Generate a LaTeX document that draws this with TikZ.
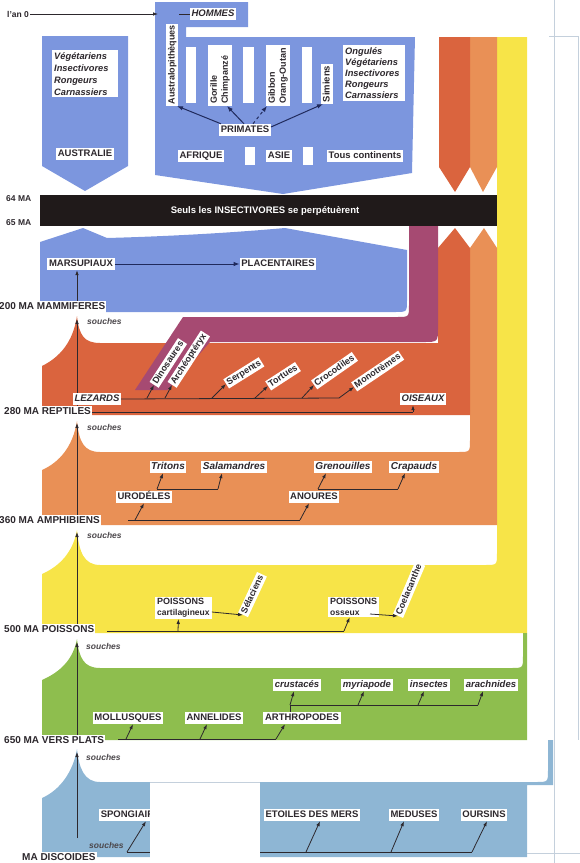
\documentclass[tikz,border=0pt]{standalone}
\usepackage{fontspec}
\setmainfont{Liberation Sans}
\usetikzlibrary{arrows.meta,calc}
\definecolor{mblue}{RGB}{124,150,222}
\definecolor{lblue}{RGB}{142,182,212}
\definecolor{bandc}{RGB}{32,26,26}
\definecolor{purp}{RGB}{166,74,114}
\definecolor{rred}{RGB}{218,100,62}
\definecolor{aor}{RGB}{233,144,86}
\definecolor{yel}{RGB}{247,228,72}
\definecolor{grn}{RGB}{142,190,78}
\definecolor{ink}{RGB}{45,40,45}
\definecolor{navy}{RGB}{32,42,92}
\definecolor{artline}{RGB}{196,208,220}
\begin{document}
\begin{tikzpicture}[x=1pt,y=-1pt,
 every node/.style={text=ink},
 lbl/.style={fill=white, inner xsep=1.6pt, inner ysep=1.6pt, text height=6.9pt, text depth=1.9pt, font=\fontsize{9.5}{10}\selectfont\bfseries},
 ilbl/.style={lbl, font=\fontsize{9.5}{10}\selectfont\bfseries\itshape},
 ilblb/.style={lbl, font=\fontsize{10}{10}\selectfont\bfseries\itshape},
 lblm/.style={fill=white, inner xsep=2pt, inner ysep=2pt, font=\fontsize{9.5}{11}\selectfont\bfseries},
 era/.style={lbl, anchor=west, inner xsep=1pt, font=\fontsize{10}{11}\selectfont\bfseries},
 rlbl/.style={lbl, anchor=west, inner ysep=1pt, font=\fontsize{9}{10}\selectfont\bfseries},
 sch/.style={font=\fontsize{8.5}{9}\selectfont\bfseries\itshape, anchor=west, inner sep=0pt, text=ink!85},
 ln/.style={draw=ink, line width=0.8pt},
 arr/.style={ln, -{Latex[length=5pt,width=3.6pt]}},
 narr/.style={draw=navy, line width=1pt, -{Latex[length=6pt,width=4.5pt]}},
]
\useasboundingbox (0,0) rectangle (580,863);

% ---------- coloured bands ----------
\fill[yel] (42,633) -- (42,574) .. controls (60,566) and (73,552) .. (77,530) .. controls (79,552) and (84,565) .. (100,565) -- (485,565) .. controls (497,565) .. (497,553) -- (497,37) -- (527,37) -- (527,633) -- cycle;
\fill[aor] (42,525) -- (42,470) .. controls (60,462) and (73,446) .. (77,421) .. controls (79,442) and (84,452) .. (100,452) -- (458,452) .. controls (470,452) .. (470,440) -- (470,248) -- (484,228) -- (497,248) -- (497,525) -- cycle;
\fill[aor] (470,37) -- (497,37) -- (497,167) -- (483,192) -- (470,167) -- cycle;
\fill[rred] (42,415) -- (42,366) .. controls (60,357) and (73,342) .. (77,316) .. controls (79,335) and (84,343) .. (100,343) -- (438,343) -- (438,248) -- (455,228) -- (470,248) -- (470,415) -- cycle;
\fill[rred] (439,37) -- (470,37) -- (470,167) -- (455,192) -- (439,167) -- cycle;
\fill[purp] (409,225) -- (438,225) -- (438,327) .. controls (438,342) .. (423,342) -- (210,342) -- (168,390) -- (135,390) -- (183,317) -- (397,317) .. controls (409,317) .. (409,305) -- cycle;
\fill[mblue] (40,242) -- (83,228) -- (107,238) .. controls (180,236) and (240,232) .. (285,228) -- (407,250) -- (407,300) .. controls (407,312) .. (395,312) -- (40,312) -- cycle;
\fill[bandc] (40,195) rectangle (497,226);
\fill[mblue] (42,36) -- (128,36) -- (128,166) -- (85,191) -- (42,166) -- cycle;
\fill[mblue] (155,2) -- (248,2) -- (248,27) -- (186,27) -- (186,37) -- (415,37) -- (412,173) -- (283,194) -- (155,175) -- cycle;
\fill[white] (186,47) rectangle (196,103);
\fill[white] (243,47) rectangle (254,103);
\fill[white] (302,47) rectangle (312,103);
\fill[white] (245,147) rectangle (255,165);
\fill[white] (303,147) rectangle (313,165);
\fill[grn] (42,740) -- (42,680) .. controls (60,672) and (73,660) .. (77,639) .. controls (79,658) and (84,668) .. (100,668) -- (511,668) .. controls (523,668) .. (523,656) -- (523,633) -- (527,633) -- (527,740) -- cycle;
\fill[lblue] (42,857) -- (42,798) .. controls (60,790) and (73,772) .. (77,749) .. controls (79,768) and (84,782) .. (100,782) -- (536,782) .. controls (548,782) .. (548,770) -- (548,740) -- (553,740) -- (553,785) -- (527,785) -- (527,857) -- cycle;

% ---------- top: hominids ----------
\node[anchor=west, inner sep=1pt, font=\fontsize{8.5}{10}\selectfont\bfseries] (an0) at (6,14) {l'an 0};
\coordinate (an0tip) at (158,14);
\draw[arr] (an0.east) -- (an0tip);
\node[ilbl] (hommes) at (213,14) {HOMMES};
\coordinate (hd) at (179,14);
\draw[ln] (hd) -- (hommes.west);
\node[lbl, rotate=90, anchor=west, font=\fontsize{9}{10}\selectfont\bfseries] (austra) at (172,106) {Australopithèques};
\node[lblm, rotate=90, anchor=west, align=left, text width=57pt, font=\fontsize{9}{11}\selectfont\bfseries] (gor) at (220,106) {Gorille\\Chimpanzé};
\node[lblm, rotate=90, anchor=west, align=left, text width=57pt, font=\fontsize{9}{11}\selectfont\bfseries] (gib) at (278,106) {Gibbon\\Orang-Outan};
\node[lbl, rotate=90, anchor=west, font=\fontsize{9.5}{10}\selectfont\bfseries] (sim) at (327,104) {Simiens};
\node[lblm, anchor=north west, align=left, text width=58pt, font=\fontsize{9.3}{11.2}\selectfont\bfseries\itshape] (ong) at (343,45) {Ongulés\\Végétariens\\Insectivores\\Rongeurs\\Carnassiers};
\node[lblm, anchor=north west, align=left, text width=62pt, font=\fontsize{9.3}{12}\selectfont\bfseries\itshape] (veg) at (52,50) {Végétariens\\Insectivores\\Rongeurs\\Carnassiers};
\node[lbl] (prim) at (245,130) {PRIMATES};
\node[lbl] (aus) at (85,154) {AUSTRALIE};
\node[lbl] (afr) at (201,156) {AFRIQUE};
\node[lbl] (asie) at (279,156) {ASIE};
\node[lbl] (tous) at (365,156) {Tous continents};
\draw[narr] ([xshift=2pt]prim.north west) -- ([xshift=5pt]austra.west);
\draw[narr] ([xshift=-1pt]prim.north) -- ([xshift=7pt]gor.west);
\draw[narr, dashed] ([xshift=8pt]prim.north) -- ([xshift=-11pt]gib.west);
\draw[narr] ([yshift=3pt]prim.east) -- ([xshift=-4pt]sim.west);

% ---------- extinction band ----------
\node[font=\fontsize{9.5}{10}\selectfont\bfseries, text=white] (seuls) at (265,211) {Seuls les INSECTIVORES se perpétuèrent};
\node[anchor=west, inner sep=0pt, font=\fontsize{8.5}{10}\selectfont\bfseries] (m64) at (6,199) {64 MA};
\node[anchor=west, inner sep=0pt, font=\fontsize{8.5}{10}\selectfont\bfseries] (m65) at (6,223) {65 MA};

% ---------- mammals ----------
\node[lbl] (mars) at (81,264) {MARSUPIAUX};
\node[lbl] (plac) at (278,264) {PLACENTAIRES};
\draw[narr] (mars) -- (plac);

% ---------- era labels and trunk ----------
\node[era] (e200) at (-2,307) {200 MA MAMMIFERES};
\node[era] (e280) at (3,412) {280 MA REPTILES};
\node[era] (e360) at (-2,521) {360 MA AMPHIBIENS};
\node[era] (e500) at (3,630) {500 MA POISSONS};
\node[era] (e650) at (3,741) {650 MA VERS PLATS};
\node[era] (edisc) at (21,858) {MA DISCOIDES};
\coordinate (tx) at (77,0);
\coordinate (spkR) at (77,319);
\coordinate (spkA) at (77,423);
\coordinate (spkY) at (77,532);
\coordinate (spkG) at (77,642);
\coordinate (spkB) at (77,752);
\coordinate (botT) at (77,838);
\draw[arr] (e200.north -| tx) -- (mars.south -| tx);
\draw[arr] (e280.north -| tx) -- (spkR);
\draw[arr] (e360.north -| tx) -- (spkA);
\draw[arr] (e500.north -| tx) -- (spkY);
\draw[arr] (e650.north -| tx) -- (spkG);
\draw[arr] (botT) -- (spkB);
\node[sch] (s1) at (87,321) {souches};
\node[sch] (s2) at (87,427) {souches};
\node[sch] (s3) at (87,535) {souches};
\node[sch] (s4) at (86,646) {souches};
\node[sch] (s5) at (86,757) {souches};
\node[sch] (s6) at (89,845) {souches};

% ---------- reptiles ----------
\node[ilbl] (lez) at (97,399) {LEZARDS};
\node[rlbl, rotate=57] (dino) at (154,385) {Dinosaures};
\node[rlbl, rotate=57] (arch) at (172,385) {Archéoptéryx};
\node[rlbl, rotate=32] (serp) at (226,384) {Serpents};
\node[rlbl, rotate=33] (tort) at (268,386) {Tortues};
\node[rlbl, rotate=35] (croc) at (314,385) {Crocodiles};
\node[rlbl, rotate=34] (mono) at (354,387) {Monotrèmes};
\node[ilbl] (ois) at (423,399) {OISEAUX};
\coordinate (lzD) at (147,398);
\coordinate (lzA) at (165,398);
\coordinate (lzS) at (212,398);
\coordinate (lzT) at (255,398);
\coordinate (lzC) at (302,398);
\coordinate (lzM) at (339,398);
\draw[ln] (lez.east) -- (lzM);
\draw[arr] (lzD) -- (dino.west);
\draw[arr] (lzA) -- (arch.west);
\draw[arr] (lzS) -- (serp.west);
\draw[arr] (lzT) -- (tort.west);
\draw[arr] (lzC) -- (croc.west);
\draw[arr] (lzM) -- (mono.west);
\coordinate (oisJ) at (413,412);
\draw[ln] (e280.east) -- (oisJ);
\draw[arr] (oisJ) -- (ois.south -| oisJ);

% ---------- amphibians ----------
\node[ilblb] (tri) at (168,467) {Tritons};
\node[ilblb] (sal) at (234,467) {Salamandres};
\node[ilblb] (gre) at (343,467) {Grenouilles};
\node[ilblb] (cra) at (414,467) {Crapauds};
\node[lbl] (uro) at (144,497) {URODÉLES};
\node[lbl] (ano) at (314,497) {ANOURES};
\coordinate (a1) at (128,520);
\coordinate (a2) at (135,520);
\coordinate (a3) at (300,520);
\draw[ln] (a1) -- (a3);
\draw[arr] (a2) -- (uro.south);
\draw[arr] (a3) -- ([xshift=-5pt]ano.south);
\coordinate (u1) at (157,489);
\coordinate (u2) at (218,489);
\draw[ln] (u1) -- (u2);
\draw[arr] (u1) -- ([xshift=-5pt]tri.south);
\draw[arr] (u2) -- ([xshift=-12pt]sal.south);
\coordinate (n1) at (318,489);
\coordinate (n2) at (398,489);
\draw[ln] (n1) -- (n2);
\draw[arr] (n1) -- ([xshift=-17pt]gre.south);
\draw[arr] (n2) -- ([xshift=-9pt]cra.south);

% ---------- fishes ----------
\node[lblm, anchor=north west, align=left, inner ysep=1.5pt, font=\fontsize{9}{10.5}\selectfont\bfseries] (pc) at (155,597) {POISSONS\\{\fontsize{8.5}{10}\selectfont cartilagineux}};
\node[lblm, anchor=north west, align=left, inner ysep=1.5pt, font=\fontsize{9}{10.5}\selectfont\bfseries] (po) at (328,597) {POISSONS\\{\fontsize{8.5}{10}\selectfont osseux}};
\node[rlbl, rotate=65] (sel) at (243,615) {Sélaciens};
\node[rlbl, rotate=67] (coel) at (398,616) {Coelacanthe};
\draw[arr] ([yshift=-4pt]pc.east) -- (sel.west);
\coordinate (poA) at (370,614);
\draw[arr] (poA) -- (coel.west);
\coordinate (f1) at (107,631);
\coordinate (f2) at (178,631);
\coordinate (f3) at (344,631);
\draw[ln] (f1) -- (f3);
\draw[arr] (f2) -- ([xshift=-5pt]pc.south);
\draw[arr] (f3) -- ([xshift=-4pt]po.south);

% ---------- worms / arthropods ----------
\node[ilbl] (cru) at (297,685) {crustacés};
\node[ilbl] (myr) at (367,685) {myriapode};
\node[ilbl] (ins) at (429,685) {insectes};
\node[ilbl] (ara) at (491,685) {arachnides};
\node[lbl] (mol) at (128,718) {MOLLUSQUES};
\node[lbl] (ann) at (214,718) {ANNELIDES};
\node[lbl] (art) at (302,718) {ARTHROPODES};
\coordinate (g1) at (290,705);
\coordinate (g2) at (358,705);
\coordinate (g3) at (418,705);
\coordinate (g4) at (478,705);
\draw[ln] (art.north -| g1) -- (g1) -- (g4);
\draw[arr] (g1) -- ([xshift=-3pt]cru.south);
\draw[arr] (g2) -- ([xshift=-3pt]myr.south);
\draw[arr] (g3) -- ([xshift=-5pt]ins.south);
\draw[arr] (g4) -- ([xshift=-8pt]ara.south);
\coordinate (v1) at (118,739);
\coordinate (v2) at (126,739);
\coordinate (v3) at (200,739);
\coordinate (v4) at (276,739);
\draw[ln] (v1) -- (v4);
\draw[arr] (v2) -- ([xshift=5pt]mol.south);
\draw[arr] (v3) -- ([xshift=-7pt]ann.south);
\draw[arr] (v4) -- ([xshift=-17pt]art.south);

% ---------- discoids ----------
\node[lbl, anchor=west] (spo) at (99,815) {SPONGIAIRES};
\node[lbl] (eto) at (312,815) {ETOILES DES MERS};
\node[lbl] (med) at (414,815) {MEDUSES};
\node[lbl] (our) at (484,815) {OURSINS};
\coordinate (d1) at (127,852);
\coordinate (d2) at (306,852);
\coordinate (d3) at (391,852);
\coordinate (d4) at (472,852);
\draw[ln] (d1) -- (d4);
\draw[arr] (d1) -- ([xshift=47pt]spo.south west);
\draw[arr] (d2) -- ([xshift=8pt]eto.south);
\draw[arr] (d3) -- ([xshift=-10pt]med.south);
\draw[arr] (d4) -- ([xshift=3pt]our.south);

% ---------- scan overlays ----------
\fill[white] (150,782) rectangle (260,863);
\draw[artline, line width=0.6pt] (150,782) -- (260,782);
\draw[artline, line width=0.6pt] (554,0) -- (554,863);
\draw[artline, line width=0.6pt] (549,36) -- (578,36) -- (578,740);
\draw[artline, line width=0.6pt] (527,853) -- (580,853);
\end{tikzpicture}
\end{document}
